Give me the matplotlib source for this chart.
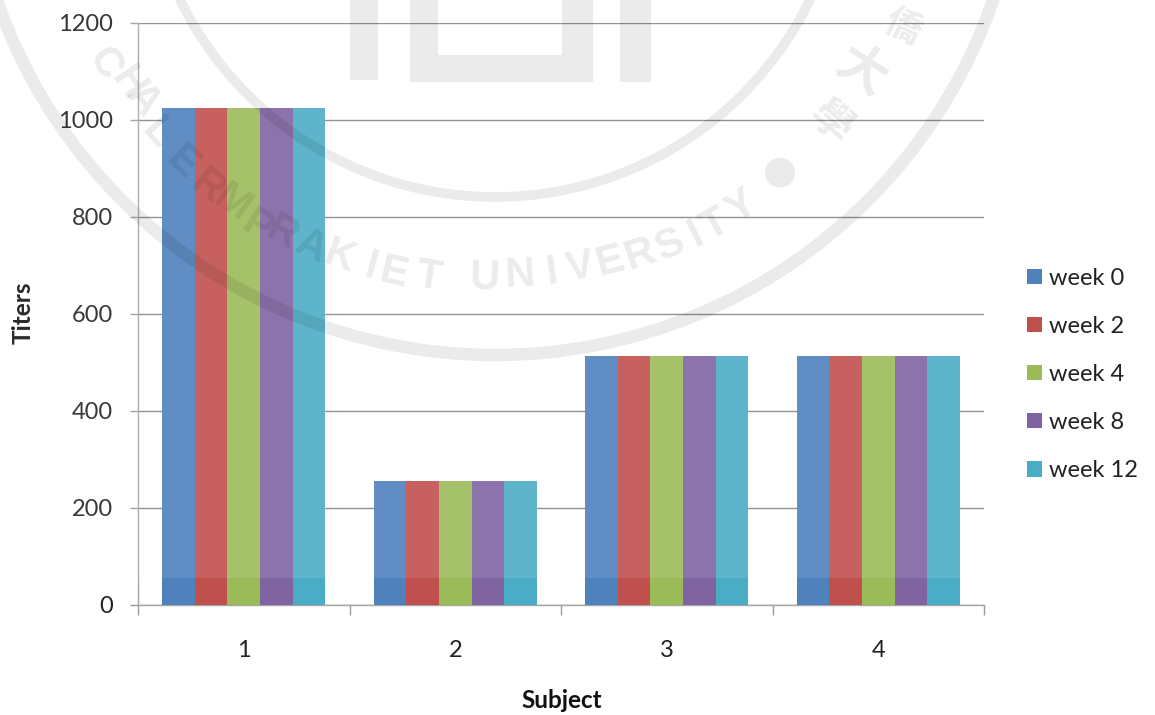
import numpy as np
import matplotlib
matplotlib.use('Agg')
import matplotlib.pyplot as plt
from matplotlib.patches import Circle, Rectangle, Patch

plt.rcParams['font.family'] = ['Lato', 'DejaVu Sans']

subjects = [1, 2, 3, 4]
y_ticks = [0, 200, 400, 600, 800, 1000, 1200]
week0 = [1024, 256, 512, 512]
week2 = [1024, 256, 512, 512]
week4 = [1024, 256, 512, 512]
week8 = [1024, 256, 512, 512]
week12 = [1024, 256, 512, 512]
series = [week0, week2, week4, week8, week12]
labels = ['week 0', 'week 2', 'week 4', 'week 8', 'week 12']
colors = ['#4F81BD', '#C0504D', '#9BBB59', '#8064A2', '#4BACC6']

W, H = 1155, 715
fig = plt.figure(figsize=(W / 100, H / 100), dpi=100)
ax = fig.add_axes([138 / W, 1 - 604.7 / H, (984 - 138) / W, (604.7 - 22.7) / H])

# clustered bars
bar_w = 0.154
x = np.array(subjects, dtype=float)
for i, vals in enumerate(series):
    ax.bar(x + (i - 2) * bar_w, vals, bar_w, color=colors[i], linewidth=0, zorder=3)

ax.set_xlim(0.5, 4.5)
ax.set_ylim(0, 1200)
ax.set_yticks(y_ticks)
ax.set_xticks(subjects)
ax.set_xticks(np.arange(0.5, 5.0, 1.0), minor=True)
ax.tick_params(axis='x', which='major', length=0, pad=25.5, labelsize=17, labelcolor='#222222')
ax.tick_params(axis='x', which='minor', length=7, width=1, color='#9a9a9a')
ax.tick_params(axis='y', length=6, width=1, color='#9a9a9a', pad=12, labelsize=17, labelcolor='#222222')
ax.grid(axis='y', color='#868686', linewidth=1, zorder=1)
ax.set_axisbelow(True)
for side in ['top', 'right']:
    ax.spines[side].set_visible(False)
for side in ['left', 'bottom']:
    ax.spines[side].set_color('#a6a6a6')
    ax.spines[side].set_linewidth(1)

fig.text(23 / W, 1 - 313 / H, 'Titers', rotation=90, ha='center', va='center',
         fontsize=17.5, fontweight='bold', color='#111111')
fig.text(562 / W, 1 - 700 / H, 'Subject', ha='center', va='center',
         fontsize=17.5, fontweight='bold', color='#111111')

handles = [Patch(facecolor=c, edgecolor='none') for c in colors]
fig.legend(handles, labels, loc='center left', bbox_to_anchor=(1027 / W, 1 - 374.5 / H),
           frameon=False, fontsize=17, labelcolor='#222222', labelspacing=1.145,
           handlelength=0.635, handleheight=0.635, handletextpad=0.3, borderaxespad=0,
           borderpad=0)

# seal stamped over the page, laid out in pixel coordinates
seal = fig.add_axes([0, 0, 1, 1], zorder=5)
seal.set_xlim(0, W)
seal.set_ylim(H, 0)
seal.axis('off')
seal.patch.set_alpha(0)
seal.add_patch(Rectangle((0, 0), W, 578, facecolor='white', alpha=0.1, linewidth=0))

cx, cy = 495, -165
ink = dict(color='black', alpha=0.08)
seal.add_patch(Circle((495, -153), 350, fill=False, edgecolor='black', alpha=0.08, linewidth=7))
seal.add_patch(Circle((495, -172), 527, fill=False, edgecolor='black', alpha=0.08, linewidth=9))
seal.add_patch(Circle((780, 172.7), 15, facecolor='black', alpha=0.08, linewidth=0))

for bx, by, bw, bh in [(350, 0, 28, 80), (410, 0, 28, 55), (410, 55, 183, 27),
                       (562, 0, 31, 55), (620, 0, 31, 82)]:
    seal.add_patch(Rectangle((bx, by), bw, bh, facecolor='black', alpha=0.08, linewidth=0))

motto = 'CHALERMPRAKIET'
motto_x = [104, 128, 143, 157, 182, 207, 232, 257, 282, 311, 339, 371, 393, 429]
motto_y = [63, 83, 100, 133, 163, 187, 203, 227, 233, 247, 257, 267, 273, 277]
uni = 'UNIVERSITY'
uni_x = [485, 520, 552, 580, 610, 640, 670, 695, 715, 742]
uni_y = [278, 275, 272, 268, 262, 255, 245, 235, 225, 207]
for ch, lx, ly in zip(motto + uni, motto_x + uni_x, motto_y + uni_y):
    rot = np.degrees(np.arctan2(lx - cx, ly - cy))
    seal.text(lx, ly, ch, rotation=rot, rotation_mode='anchor', ha='center', va='center',
              fontsize=30, fontweight='bold', family='Liberation Sans', **ink)

# the Chinese name runs along the ring, so each glyph stands on the tangent
for ch, lx, ly, size in [('僑', 903, 27, 26), ('大', 861, 71, 36), ('學', 830, 122, 30)]:
    rot = np.degrees(np.arctan2(lx - cx, ly - cy)) - 90
    seal.text(lx, ly, ch, rotation=rot, rotation_mode='anchor', ha='center', va='center',
              fontsize=size, fontweight='bold', family='Noto Sans CJK TC', **ink)

fig.savefig('out.png', dpi=100)
